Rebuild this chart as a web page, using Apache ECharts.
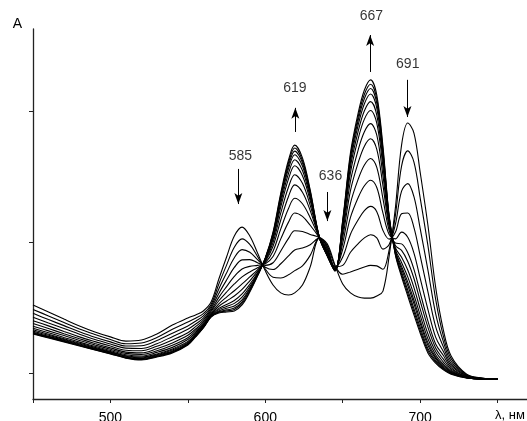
<!DOCTYPE html>
<html>
<head>
<meta charset="utf-8">
<script src="https://cdn.jsdelivr.net/npm/echarts@6/dist/echarts.min.js"></script>
<style>
  html, body { margin: 0; padding: 0; background: #fff; }
  #chart { width: 527px; height: 421px; }
</style>
</head>
<body>
<div id="chart"></div>
<script>
// Wavelength grid (nm)
const wavelengths = [450,460,470,480,490,500,510,520,530,540,550,555,560,565,570,575,580,585,590,595,600,605,610,615,619,624,629,635,640,645,650,655,660,664,668,672,676,680,684,688,692,696,700,705,710,715,720,730,740,750];

// Absorbance spectra, from the first (spectrum0) to the last (spectrum13) of the titration
const spectrum0  = [.359,.332,.305,.279,.256,.237,.221,.225,.248,.282,.309,.321,.336,.370,.458,.542,.622,.656,.622,.557,.489,.435,.405,.397,.405,.435,.504,.615,.592,.511,.439,.405,.389,.385,.385,.393,.412,.546,.729,.969,1.053,1.015,.866,.664,.427,.263,.164,.095,.080,.076];
const spectrum1  = [.342,.317,.292,.267,.246,.227,.211,.214,.235,.266,.294,.308,.326,.361,.439,.511,.579,.611,.590,.544,.496,.465,.462,.474,.490,.508,.548,.615,.585,.508,.476,.485,.495,.504,.510,.508,.495,.569,.700,.889,.947,.904,.768,.586,.381,.240,.154,.093,.079,.076];
const spectrum2  = [.327,.303,.280,.257,.236,.218,.202,.203,.223,.251,.279,.297,.317,.353,.420,.481,.539,.570,.560,.532,.503,.494,.516,.546,.569,.576,.589,.615,.579,.505,.510,.560,.593,.615,.627,.615,.572,.590,.666,.793,.822,.772,.651,.493,.326,.219,.144,.091,.079,.076];
const spectrum3  = [.312,.290,.269,.247,.227,.210,.194,.193,.211,.238,.266,.286,.309,.346,.403,.454,.502,.531,.532,.520,.510,.520,.565,.613,.642,.639,.628,.615,.573,.502,.542,.629,.684,.719,.735,.715,.643,.610,.636,.707,.710,.654,.547,.410,.276,.199,.135,.089,.078,.076];
const spectrum4  = [.299,.279,.258,.237,.219,.202,.186,.184,.201,.225,.253,.276,.301,.339,.388,.429,.468,.496,.506,.510,.516,.544,.611,.675,.710,.697,.663,.615,.567,.499,.571,.693,.769,.814,.835,.807,.709,.628,.611,.637,.617,.557,.461,.342,.236,.181,.127,.087,.078,.076];
const spectrum5  = [.288,.269,.249,.230,.212,.195,.179,.176,.192,.214,.243,.267,.294,.334,.375,.408,.439,.466,.485,.501,.520,.564,.649,.727,.766,.745,.692,.615,.563,.497,.595,.747,.839,.893,.918,.884,.764,.643,.595,.592,.558,.495,.406,.298,.210,.166,.120,.085,.077,.076];
const spectrum6  = [.278,.260,.242,.223,.206,.190,.174,.170,.184,.205,.234,.260,.289,.328,.363,.389,.413,.439,.466,.493,.525,.583,.683,.773,.817,.789,.719,.615,.558,.495,.617,.795,.902,.965,.993,.953,.814,.657,.586,.567,.525,.460,.375,.274,.195,.152,.114,.084,.077,.076];
const spectrum7  = [.270,.253,.235,.217,.201,.185,.169,.164,.178,.197,.227,.254,.284,.324,.354,.374,.393,.418,.451,.487,.528,.597,.710,.809,.856,.823,.739,.615,.555,.493,.634,.832,.951,1.020,1.051,1.007,.852,.668,.577,.541,.492,.425,.344,.249,.181,.141,.109,.083,.077,.076];
const spectrum8  = [.264,.247,.230,.213,.197,.181,.165,.160,.172,.191,.220,.249,.280,.321,.346,.361,.376,.401,.438,.481,.531,.609,.733,.840,.890,.852,.757,.615,.552,.492,.649,.864,.994,1.068,1.101,1.053,.885,.677,.570,.521,.466,.397,.320,.230,.169,.132,.105,.082,.077,.076];
const spectrum9  = [.259,.243,.227,.210,.194,.179,.163,.157,.169,.187,.216,.245,.278,.319,.341,.353,.365,.389,.429,.478,.533,.617,.748,.861,.913,.872,.769,.615,.551,.491,.659,.886,1.022,1.100,1.135,1.083,.907,.683,.564,.506,.446,.377,.301,.215,.160,.126,.102,.082,.076,.076];
const spectrum10 = [.255,.239,.224,.207,.192,.176,.160,.154,.166,.183,.213,.243,.275,.317,.336,.346,.355,.378,.422,.475,.535,.624,.761,.879,.932,.889,.779,.615,.549,.490,.667,.904,1.046,1.127,1.164,1.110,.926,.688,.561,.496,.433,.363,.289,.205,.154,.121,.100,.081,.076,.076];
const spectrum11 = [.252,.237,.222,.205,.190,.175,.159,.152,.164,.180,.210,.240,.274,.315,.333,.340,.347,.371,.417,.473,.536,.629,.771,.891,.946,.901,.786,.615,.548,.490,.673,.918,1.064,1.147,1.185,1.129,.940,.692,.556,.484,.416,.345,.274,.193,.147,.117,.098,.081,.076,.076];
const spectrum12 = [.250,.235,.220,.204,.188,.173,.157,.151,.162,.178,.208,.239,.272,.314,.331,.336,.342,.365,.412,.471,.537,.633,.778,.902,.958,.910,.792,.615,.547,.489,.678,.928,1.078,1.163,1.201,1.145,.951,.695,.553,.475,.404,.333,.262,.184,.142,.114,.096,.080,.076,.076];
const spectrum13 = [.248,.233,.218,.202,.187,.172,.156,.149,.160,.176,.206,.237,.271,.313,.328,.332,.336,.359,.408,.469,.538,.637,.786,.912,.969,.920,.798,.615,.546,.489,.683,.939,1.092,1.179,1.218,1.160,.962,.698,.550,.466,.393,.321,.252,.176,.137,.111,.095,.080,.076,.076];

const spectra = [spectrum0,spectrum1,spectrum2,spectrum3,spectrum4,spectrum5,spectrum6,spectrum7,spectrum8,spectrum9,spectrum10,spectrum11,spectrum12,spectrum13];

// Axis ticks
const xTickValues = [450,500,550,600,650,700,750];
const xLabelValues = [500,600,700];
const yTickValues = [0.1,0.6,1.1];

// Peak annotations (nm, absorbance)
const peakLabels = ['585','619','636','667','691'];
const labelX     = [583.9, 619.1, 642.1, 668.5, 692.0];
const labelY     = [0.926, 1.187, 0.849, 1.462, 1.277];
const arrowX     = [582.6, 619.4, 640.1, 667.7, 691.8];
const arrowFrom  = [0.878, 1.019, 0.790, 1.248, 1.218];
const arrowTo    = [0.744, 1.111, 0.679, 1.389, 1.076];

const FONT = "'Liberation Sans', Arial, sans-serif";
const chart = echarts.init(document.getElementById('chart'), null, {renderer: 'canvas'});

const lineSeries = spectra.map((vals, k) => ({
  type: 'line',
  name: 'spectrum' + k,
  data: wavelengths.map((w, i) => [w, vals[i]]),
  showSymbol: false,
  smooth: 0.35,
  lineStyle: { color: '#000', width: 1.1 },
  silent: true,
  animation: false,
  z: 2
}));

const annotationSeries = {
  type: 'scatter',
  data: labelX.map((x, i) => [x, labelY[i], peakLabels[i]]),
  symbolSize: 1,
  clip: false,
  itemStyle: { color: 'transparent' },
  label: {
    show: true,
    position: 'inside',
    formatter: p => p.data[2],
    color: '#000',
    fontSize: 14,
    fontFamily: FONT
  },
  silent: true,
  animation: false,
  markLine: {
    silent: true,
    animation: false,
    symbol: ['none', 'arrow'],
    symbolSize: [6, 11],
    label: { show: false },
    lineStyle: { color: '#000', width: 1, type: 'solid' },
    data: arrowX.map((x, i) => [{ coord: [x, arrowFrom[i]] }, { coord: [x, arrowTo[i]] }])
  },
  z: 5
};

chart.setOption({
  animation: false,
  backgroundColor: '#fff',
  grid: { left: 33, right: 0, top: 29, bottom: 22, containLabel: false, outerBoundsMode: 'none' },
  xAxis: {
    type: 'value',
    min: 450,
    max: 769,
    name: 'λ, нм',
    nameLocation: 'end',
    nameGap: -32,
    nameTextStyle: { fontSize: 13, fontFamily: FONT, color: '#000', align: 'left', verticalAlign: 'top', padding: [10, 0, 0, 0] },
    axisLine: { show: true, lineStyle: { color: '#222', width: 1.3 } },
    axisTick: { show: true, customValues: xTickValues, length: 4, inside: false, lineStyle: { color: '#222', width: 1 } },
    axisLabel: { show: true, customValues: xLabelValues, margin: 12, fontSize: 14, fontFamily: FONT, color: '#000' },
    splitLine: { show: false }
  },
  yAxis: {
    type: 'value',
    min: 0,
    max: 1.412,
    name: 'A',
    nameLocation: 'end',
    nameGap: 5,
    nameTextStyle: { fontSize: 14, fontFamily: FONT, color: '#000', align: 'right', verticalAlign: 'middle', padding: [0, 11, 0, 0] },
    axisLine: { show: true, lineStyle: { color: '#222', width: 1.3 } },
    axisTick: { show: true, customValues: yTickValues, length: 4, inside: false, lineStyle: { color: '#222', width: 1 } },
    axisLabel: { show: false },
    splitLine: { show: false }
  },
  series: lineSeries.concat([annotationSeries])
});
</script>
</body>
</html>
